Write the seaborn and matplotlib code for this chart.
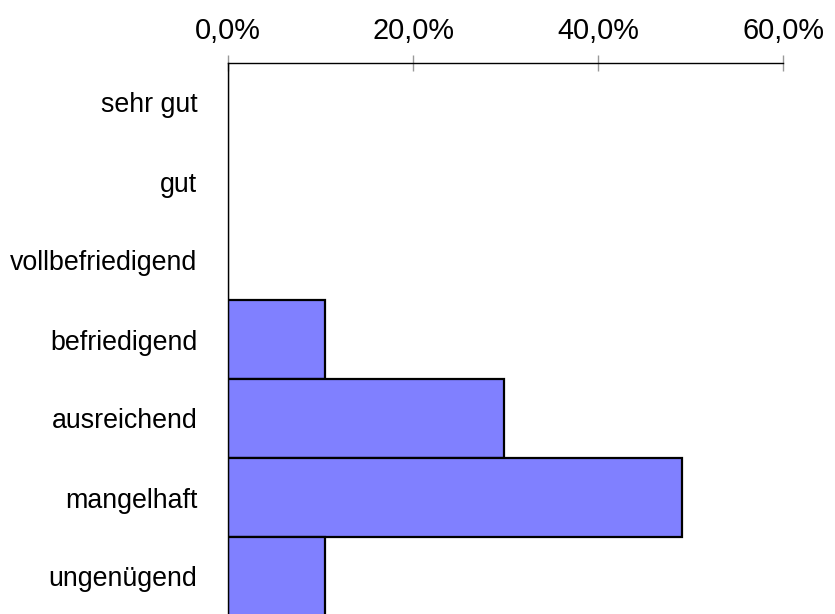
import pandas as pd
import matplotlib
matplotlib.use('Agg')
import matplotlib.pyplot as plt
import seaborn as sns
from matplotlib.ticker import FuncFormatter

grades = ['sehr gut', 'gut', 'vollbefriedigend', 'befriedigend',
          'ausreichend', 'mangelhaft', 'ungenügend']
shares = [0.0, 0.0, 0.0, 10.5, 29.8, 49.1, 10.5]
xticks = [0, 20, 40, 60]

sns.set_style('white')
plt.rcParams['font.family'] = ['Liberation Sans', 'DejaVu Sans']

df = pd.DataFrame({'Note': grades, 'Anteil': shares})

fig = plt.figure(figsize=(8.35, 6.14), dpi=100)
ax = fig.add_axes([228 / 835, 1 - 616 / 614, (783 - 228) / 835, (616 - 63) / 614])

sns.barplot(data=df, x='Anteil', y='Note', order=grades, orient='h',
            color='#8080FF', saturation=1, width=1.0,
            edgecolor='black', linewidth=1.6, ax=ax)

ax.set_xlim(0, 60)
ax.set_ylim(6.5, -0.5)
ax.set_xticks(xticks)
ax.xaxis.set_major_formatter(FuncFormatter(lambda v, p: f'{v:.1f}'.replace('.', ',') + '%'))
ax.xaxis.tick_top()
ax.tick_params(axis='x', direction='inout', length=12, width=1, color='#999999',
               labelsize=20.8, labelcolor='black', pad=7, bottom=False, top=True)
ax.tick_params(axis='y', length=0, labelsize=19.3, labelcolor='black', pad=22)
ax.set_xlabel('')
ax.set_ylabel('')

for side in ['right', 'bottom']:
    ax.spines[side].set_visible(False)
for side in ['top', 'left']:
    ax.spines[side].set_color('black')
    ax.spines[side].set_linewidth(1.0)

fig.savefig('out.png', dpi=100)
